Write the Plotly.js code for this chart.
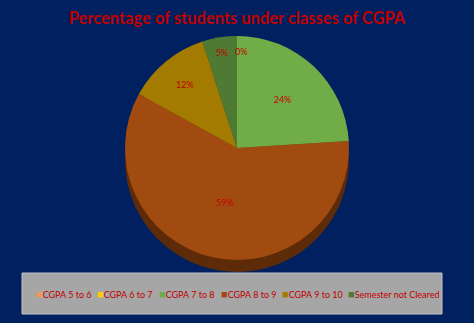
<!DOCTYPE html>
<html>
<head>
<meta charset="utf-8">
<script src="https://cdn.plot.ly/plotly-3.0.1.min.js"></script>
<style>html,body{margin:0;padding:0;background:#002060;}#chart{width:474px;height:323px;}</style>
</head>
<body>
<div id="chart"></div>
<script>
var categories = ["CGPA 5 to 6", "CGPA 6 to 7", "CGPA 7 to 8", "CGPA 8 to 9", "CGPA 9 to 10", "Semester not Cleared"];
var percentages = [0, 0, 24, 59, 12, 5];
var sliceColors = ["#F4955A", "#FFCC00", "#70AD47", "#A14B10", "#A37B00", "#4E7A33"];
var sideColors = ["#8A4A20", "#8A7000", "#3E6325", "#5E2B08", "#5C4600", "#2C4A1C"];
var titleText = "Percentage of students under classes of CGPA";

var W = 474, H = 323;
function px(x) { return x / W; }
function py(y) { return 1 - y / H; }

var cx = 237, cy = 148, r = 112, depth = 12;

var side = {
  type: "pie",
  labels: categories,
  values: percentages,
  sort: false,
  direction: "clockwise",
  rotation: 0,
  marker: { colors: sideColors, line: { width: 0 } },
  textinfo: "none",
  hoverinfo: "skip",
  showlegend: false,
  domain: { x: [px(cx - r), px(cx + r)], y: [py(cy + depth + r), py(cy + depth - r)] }
};

var top_ = {
  type: "pie",
  labels: categories,
  values: percentages,
  sort: false,
  direction: "clockwise",
  rotation: 0,
  marker: { colors: sliceColors, line: { width: 0 } },
  textinfo: "percent",
  texttemplate: "%{percent:.0%}",
  textposition: "inside",
  insidetextorientation: "horizontal",
  textfont: { family: "Lato", size: 9, color: "#C00000" },
  showlegend: false,
  domain: { x: [px(cx - r), px(cx + r)], y: [py(cy + r), py(cy - r)] }
};

var legendStarts = [34, 95, 157, 219, 280, 346];
var annotations = categories.map(function (c, i) {
  return {
    xref: "paper", yref: "paper",
    x: px(legendStarts[i]), y: py(293),
    xanchor: "left", yanchor: "middle",
    showarrow: false,
    text: '<span style="color:' + sliceColors[i] + ';font-size:11px">■</span>' + c,
    font: { family: "Lato", size: 9, color: "#C00000" }
  };
});

// label for the zero-valued slices, which sit at the pie's start angle (12 o'clock)
var total = percentages.reduce(function (a, b) { return a + b; }, 0);
var zeroCats = percentages.filter(function (v) { return v === 0; });
if (zeroCats.length) {
  annotations.push({
    xref: "paper", yref: "paper",
    x: px(cx + 4), y: py(cy - r * 0.86),
    xanchor: "center", yanchor: "middle", showarrow: false,
    text: Math.round(100 * zeroCats[0] / total) + "%",
    font: { family: "Lato", size: 9, color: "#C00000" }
  });
}

var layout = {
  width: W, height: H,
  margin: { l: 0, r: 0, t: 0, b: 0 },
  paper_bgcolor: "#002060",
  plot_bgcolor: "#002060",
  title: {
    text: "<b>" + titleText + "</b>",
    font: { family: "Lato", size: 16.5, color: "#C00000" },
    x: 0.5, xanchor: "center",
    y: py(18), yanchor: "middle", yref: "container"
  },
  shapes: [{
    type: "rect", xref: "paper", yref: "paper",
    x0: px(22), x1: px(442), y0: py(314), y1: py(273),
    fillcolor: "#A6A6A6", line: { color: "#C4C4CC", width: 1 },
    layer: "above"
  }],
  annotations: annotations,
  showlegend: false
};

Plotly.newPlot("chart", [side, top_], layout, { displayModeBar: false, staticPlot: true });
</script>
</body>
</html>
